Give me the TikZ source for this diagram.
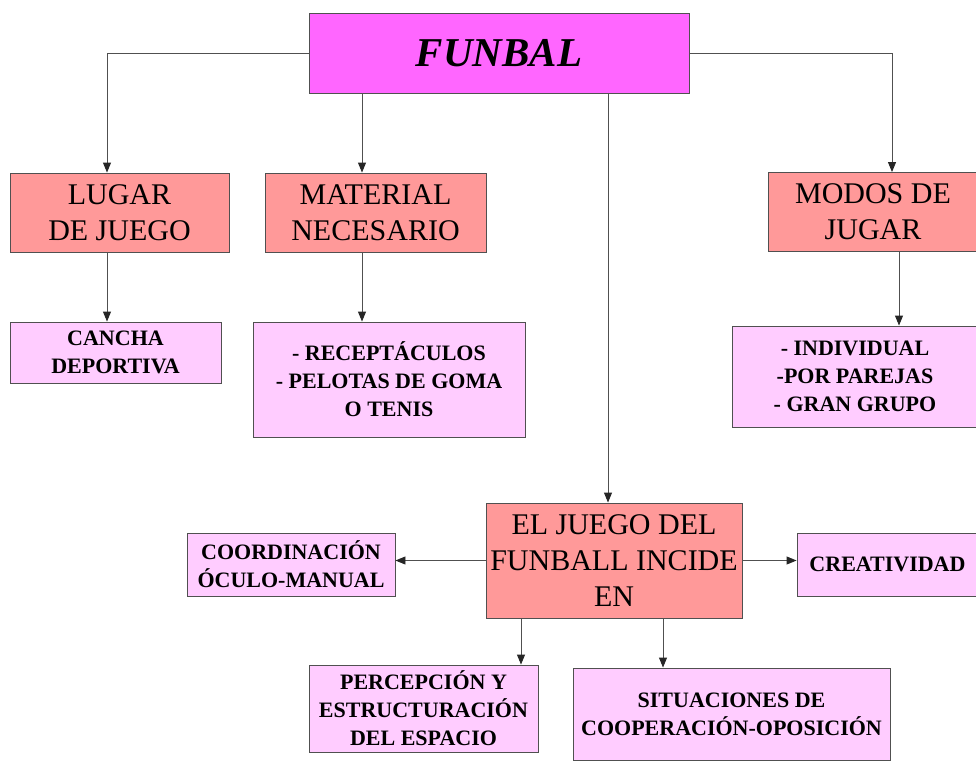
\documentclass[tikz,border=0pt]{standalone}
\usepackage{fontspec}
\setmainfont{Liberation Serif}
\usetikzlibrary{arrows.meta}
\definecolor{magbox}{HTML}{FF66FF}
\definecolor{salbox}{HTML}{FF9999}
\definecolor{pinkbox}{HTML}{FFCCFF}
\definecolor{edge}{HTML}{505050}
\tikzset{
  base/.style={draw=edge, line width=0.9pt, align=center, inner sep=0pt, text=black},
  topbox/.style={base, fill=magbox, font=\fontsize{41}{46}\selectfont\bfseries\itshape},
  salmon/.style={base, fill=salbox, font=\fontsize{30}{36}\selectfont},
  pink/.style={base, fill=pinkbox, font=\fontsize{22}{28}\selectfont\bfseries},
  conn/.style={draw=edge, line width=0.9pt, -{Triangle[length=10pt,width=8pt,color=black!85]}},
}
\begin{document}
\begin{tikzpicture}[x=1pt,y=-1pt]
\useasboundingbox (0,0) rectangle (976,760);
\node[topbox, minimum width=380pt, minimum height=80pt] (fun) at (499,53) {FUNBAL};
\node[salmon, minimum width=219pt, minimum height=79pt] (lugar) at (119.5,212.5) {LUGAR\\DE JUEGO};
\node[salmon, minimum width=221pt, minimum height=79pt] (mat) at (375.5,212.5) {MATERIAL\\NECESARIO};
\node[salmon, minimum width=210pt, minimum height=79pt] (modos) at (873,212) {MODOS DE\\JUGAR};
\node[pink, minimum width=211pt, minimum height=61pt] (cancha) at (115.5,352.5) {CANCHA\\DEPORTIVA};
\node[pink, minimum width=272pt, minimum height=115pt] (rec) at (389,379.5) {- RECEPTÁCULOS\\- PELOTAS DE GOMA\\O TENIS};
\node[pink, minimum width=246pt, minimum height=101pt] (ind) at (855,376.5) {- INDIVIDUAL\\-POR PAREJAS\\- GRAN GRUPO};
\node[salmon, minimum width=256pt, minimum height=115pt] (juego) at (614,560.5) {EL JUEGO DEL\\FUNBALL INCIDE\\EN};
\node[pink, minimum width=208pt, minimum height=63pt] (coord) at (291,564.5) {COORDINACIÓN\\ÓCULO-MANUAL};
\node[pink, minimum width=181pt, minimum height=63pt] (crea) at (887.5,564.5) {CREATIVIDAD};
\node[pink, minimum width=229pt, minimum height=87pt] (perc) at (423.5,708.5) {PERCEPCIÓN Y\\ESTRUCTURACIÓN\\DEL ESPACIO};
\node[pink, minimum width=317pt, minimum height=92pt] (sit) at (731.5,714) {SITUACIONES DE\\COOPERACIÓN-OPOSICIÓN};
\coordinate (xL) at (107,0);
\coordinate (xM) at (362,0);
\coordinate (xJ) at (608,0);
\coordinate (xR) at (892,0);
\coordinate (xR2) at (899,0);
\coordinate (xP) at (521,0);
\coordinate (xS) at (663,0);
\draw[conn] (fun.west) -| (lugar.north -| xL);
\draw[conn] (fun.south -| xM) -- (mat.north -| xM);
\draw[conn] (fun.south -| xJ) -- (juego.north -| xJ);
\draw[conn] (fun.east) -| (modos.north -| xR);
\draw[conn] (lugar.south -| xL) -- (cancha.north -| xL);
\draw[conn] (mat.south -| xM) -- (rec.north -| xM);
\draw[conn] (modos.south -| xR2) -- (ind.north -| xR2);
\draw[conn] (juego.west) -- (coord.east |- juego.west);
\draw[conn] (juego.east) -- (crea.west |- juego.east);
\draw[conn] (juego.south -| xP) -- (perc.north -| xP);
\draw[conn] (juego.south -| xS) -- (sit.north -| xS);
\end{tikzpicture}
\end{document}
